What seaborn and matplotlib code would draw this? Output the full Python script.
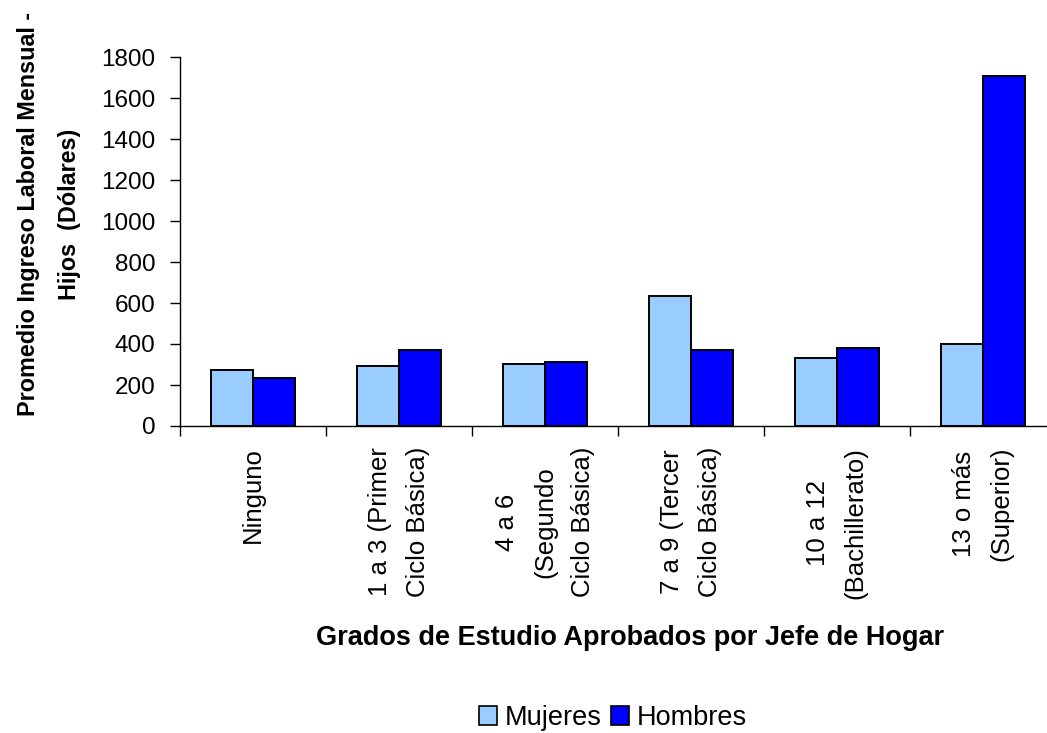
import matplotlib
matplotlib.use("Agg")
import matplotlib.pyplot as plt
from matplotlib.patches import Patch
import seaborn as sns
import pandas as pd
import numpy as np

categorias = ["Ninguno", "1 a 3 (Primer\nCiclo Básica)", "4 a 6\n(Segundo\nCiclo Básica)",
              "7 a 9 (Tercer\nCiclo Básica)", "10 a 12\n(Bachillerato)", "13 o más\n(Superior)"]
mujeres = [272, 291, 301, 634, 332, 400]
hombres = [234, 371, 311, 371, 379, 1706]
series = ["Mujeres", "Hombres"]
colores = ["#99CCFF", "#0000FF"]
yticks = [0, 200, 400, 600, 800, 1000, 1200, 1400, 1600, 1800]

df = pd.DataFrame({
    "cat": categorias * 2,
    "valor": mujeres + hombres,
    "serie": [series[0]] * len(categorias) + [series[1]] * len(categorias),
})

sns.set_theme(style="white")
plt.rcParams["font.family"] = ["Liberation Sans", "DejaVu Sans"]
for k in ["text.color", "axes.labelcolor", "xtick.color", "ytick.color", "axes.edgecolor"]:
    plt.rcParams[k] = "black"

fig = plt.figure(figsize=(10.47, 7.33), dpi=100)
ax = fig.add_axes([180 / 1047, (733 - 426) / 733, 876 / 1047, 369 / 733])

sns.barplot(data=df, x="cat", y="valor", hue="serie", palette=colores, width=0.58,
            edgecolor="black", linewidth=1.4, saturation=1, ax=ax, legend=False)

ax.set_ylim(0, 1800)
ax.set_xlim(-0.5, 5.5)
ax.set_yticks(yticks)
ax.set_yticklabels([str(v) for v in yticks], fontsize=17.5)
ax.tick_params(axis="y", direction="out", length=7.5, width=1, color="black", pad=10, left=True)
ax.set_xticks(range(len(categorias)))
ax.set_xticklabels(categorias, rotation=90, fontsize=18.5, ha="center", va="top",
                   multialignment="center", linespacing=1.72)
ax.tick_params(axis="x", which="major", length=0, pad=15)
ax.set_xticks(np.arange(-0.5, 5.6, 1.0), minor=True)
ax.tick_params(axis="x", which="minor", direction="out", length=7.5, width=1, color="black", bottom=True)

for s in ["top", "right"]:
    ax.spines[s].set_visible(False)
for s in ["left", "bottom"]:
    ax.spines[s].set_color("black")
    ax.spines[s].set_linewidth(1)

ax.set_ylabel("Promedio Ingreso Laboral Mensual -\nHijos  (Dólares)", fontsize=16.8,
              fontweight="bold", linespacing=2.0)
ax.yaxis.set_label_coords(-0.113, 0.5745)
ax.set_xlabel("Grados de Estudio Aprobados por Jefe de Hogar", fontsize=19.5,
              fontweight="bold")
ax.xaxis.label.set_va("center")
ax.xaxis.set_label_coords(0.5137, -0.5745)

handles = [Patch(facecolor=c, edgecolor="black", linewidth=1.2) for c in colores]
fig.legend(handles, series, loc="center", bbox_to_anchor=(613 / 1047, 1 - 718 / 733), ncol=2,
           frameon=False, handlelength=0.65, handleheight=0.65, handletextpad=0.3,
           columnspacing=0.35, prop={"size": 19.5})

fig.savefig("out.png", dpi=100)
